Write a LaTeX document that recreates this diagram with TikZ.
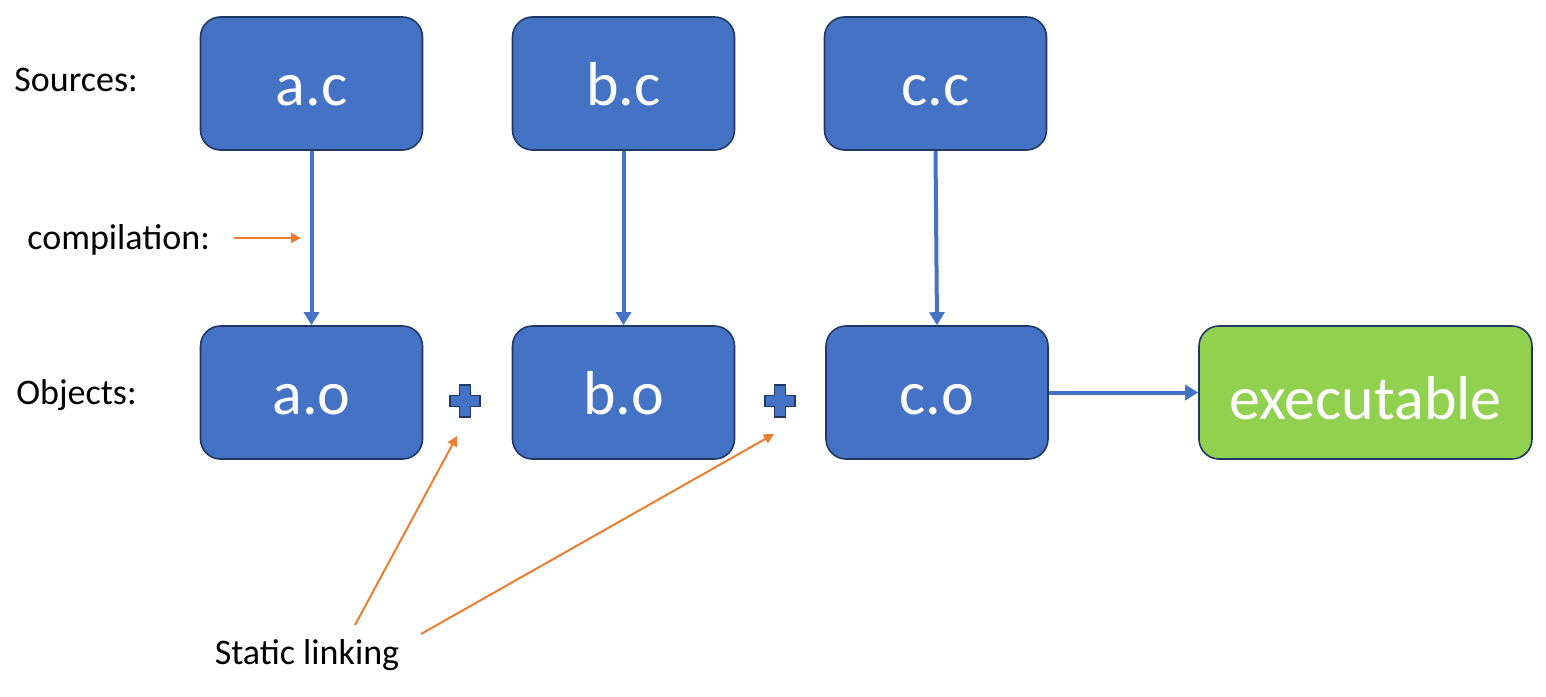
\documentclass[tikz,border=0pt]{standalone}
\usepackage{fontspec}
\setmainfont{Carlito}
\usetikzlibrary{arrows.meta}
\definecolor{boxblue}{HTML}{4472C4}
\definecolor{boxedge}{HTML}{1F3864}
\definecolor{boxgreen}{HTML}{92D050}
\definecolor{arrorange}{HTML}{ED7D31}
\tikzset{
  box/.style={draw=boxedge, line width=0.8pt, fill=boxblue, rounded corners=10pt,
    minimum width=111pt, minimum height=66.5pt, inner sep=0pt,
    text height=22pt, text depth=0pt,
    text=white, font=\fontsize{31}{36}\selectfont},
  greenbox/.style={box, fill=boxgreen, minimum width=166.5pt, text height=27pt},
  lbl/.style={font=\fontsize{18}{22}\selectfont, inner sep=0pt},
  flow/.style={draw=boxblue, line width=2pt, -{Triangle[length=6.5pt,width=7.5pt]}},
  note/.style={draw=arrorange, line width=1pt, -{Triangle[length=5pt,width=5pt]}},
  plussign/.pic={\draw[boxedge, fill=boxblue, line width=0.8pt]
    (-5.5,-16) -- (5.5,-16) -- (5.5,-5.5) -- (15,-5.5) -- (15,5.5) -- (5.5,5.5)
    -- (5.5,16) -- (-5.5,16) -- (-5.5,5.5) -- (-15,5.5) -- (-15,-5.5) -- (-5.5,-5.5) -- cycle;}
}
\begin{document}
\begin{tikzpicture}[x=0.5pt,y=-0.5pt]
\useasboundingbox (0,0) rectangle (1546,696);
% sources
\node[box] (ac) at (311.5,83.5) {a.c};
\node[box] (bc) at (623.5,83.5) {b.c};
\node[box] (cc) at (935.5,83.5) {c.c};
% objects
\node[box] (ao) at (311.5,392.5) {a.o};
\node[box] (bo) at (623.5,392.5) {b.o};
\node[box] (co) at (937,392.5) {c.o};
\node[greenbox] (ex) at (1365.5,392.5) {executable};
% labels
\node[lbl, anchor=west] (src) at (14,80) {Sources:};
\node[lbl, anchor=west] (cmp) at (27,240) {compilation:};
\node[lbl, anchor=west] (obj) at (16,395) {Objects:};
\node[lbl] (sl) at (307,655) {Static linking};
% plus signs
\coordinate (p1) at (465,401);
\coordinate (p2) at (780,401);
\pic at (p1) {plussign};
\pic at (p2) {plussign};
% flows
\draw[flow] (ac) -- (ao);
\draw[flow] (bc) -- (bo);
\draw[flow] (cc.south) -- (co.north);
\draw[flow] (co) -- (ex);
% orange notes
\coordinate (c1) at (234,238);
\coordinate (c2) at (301,238);
\draw[note] (c1) -- (c2);
\coordinate (s1) at (355,625);
\coordinate (t1) at (457,436);
\coordinate (s2) at (421,634);
\coordinate (t2) at (774,434);
\draw[note] (s1) -- (t1);
\draw[note] (s2) -- (t2);
\end{tikzpicture}
\end{document}
